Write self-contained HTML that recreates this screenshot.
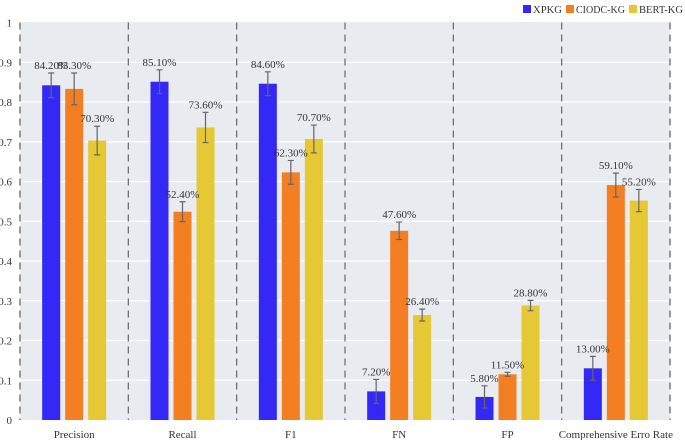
<!DOCTYPE html>
<html><head><meta charset="utf-8"><style>
body{margin:0;background:#fff}
svg{display:block;font-family:"Liberation Serif",serif}
</style></head><body>
<svg width="685" height="440" id="chart">
<rect x="20" y="22" width="650" height="398" fill="#e8ebf0"/>
<g id="grid"></g><g id="bars"></g><g id="labels"></g>
<g font-size="11">
<rect x="523" y="5" width="8" height="8" fill="#3328f5"/>
<text x="533" y="13" fill="#333" textLength="29" lengthAdjust="spacingAndGlyphs">XPKG</text>
<rect x="566" y="5" width="8" height="8" fill="#f37f22"/>
<text x="576" y="13" fill="#333" textLength="49" lengthAdjust="spacingAndGlyphs">CIODC-KG</text>
<rect x="629" y="5" width="8" height="8" fill="#e6c834"/>
<text x="639" y="13" fill="#333" textLength="44" lengthAdjust="spacingAndGlyphs">BERT-KG</text>
</g>
</svg>
<script>
const categories=["Precision","Recall","F1","FN","FP","Comprehensive Erro Rate"];
const seriesNames=["XPKG","CIODC-KG","BERT-KG"];
const xpkg=[0.842,0.851,0.846,0.072,0.058,0.130];
const ciodc=[0.833,0.524,0.623,0.476,0.115,0.591];
const bert=[0.703,0.736,0.707,0.264,0.288,0.552];
const xpkgErr=[0.031,0.03,0.03,0.03,0.028,0.03];
const ciodcErr=[0.04,0.025,0.03,0.022,0.005,0.03];
const bertErr=[0.036,0.038,0.035,0.015,0.013,0.028];
const yTicks=[0,0.1,0.2,0.3,0.4,0.5,0.6,0.7,0.8,0.9,1];
const colors=["#3328f5","#f37f22","#e6c834"];
const NS="http://www.w3.org/2000/svg";
const L=20,R=670,T=22.5,B=420;
const gw=(R-L)/categories.length;
const y=v=>B-(B-T)*v;
const gx=i=>L+gw*i;
function mk(tag,attrs,parent,text){const e=document.createElementNS(NS,tag);for(const k in attrs)e.setAttribute(k,attrs[k]);if(text!==undefined)e.textContent=text;document.getElementById(parent).appendChild(e);return e;}
yTicks.forEach(t=>{
 if(t>0&&t<1){const g=mk('line',{x1:L,x2:R,y1:y(t),y2:y(t),stroke:'#fff','stroke-width':1.2},'grid');
 
 }
 const tl=mk('text',{x:12,y:y(t)+4,'font-size':11,fill:'#333','text-anchor':'end'},'grid',String(t));
 
 
});
for(let i=0;i<=categories.length;i++){
 const d=mk('line',{x1:gx(i),x2:gx(i),y1:T,y2:B,stroke:(i==0||i==categories.length)?'#999':'#666','stroke-width':(i==0||i==categories.length)?2:1.2,'stroke-dasharray':'7,5'},'grid');
 
 
}
const all=[xpkg,ciodc,bert],errs=[xpkgErr,ciodcErr,bertErr];
categories.forEach((c,i)=>{
 const cx=gx(i)+gw/2;
 const xl=mk('text',{x:cx,y:438,'font-size':11,fill:'#333','text-anchor':'middle'},'labels',c);
 
 
 all.forEach((s,j)=>{
  const bx=cx-32+j*23;
  const r=mk('rect',{x:bx,y:y(s[i]),width:18,height:B-y(s[i]),fill:colors[j]},'bars');
  
  
  const e=errs[j][i],mx=bx+9;
  const eb=mk('path',{d:`M${mx} ${y(s[i]+e)}V${y(s[i]-e)}M${mx-3} ${y(s[i]+e)}H${mx+3}M${mx-3} ${y(s[i]-e)}H${mx+3}`,stroke:'#666','stroke-width':1.2,fill:'none'},'bars');
  
  
  const vl=mk('text',{x:mx,y:y(s[i]+e)-4,'font-size':11,fill:'#333','text-anchor':'middle'},'labels',(s[i]*100).toFixed(2)+'%');
  
  
 });
});
</script>
</body></html>
